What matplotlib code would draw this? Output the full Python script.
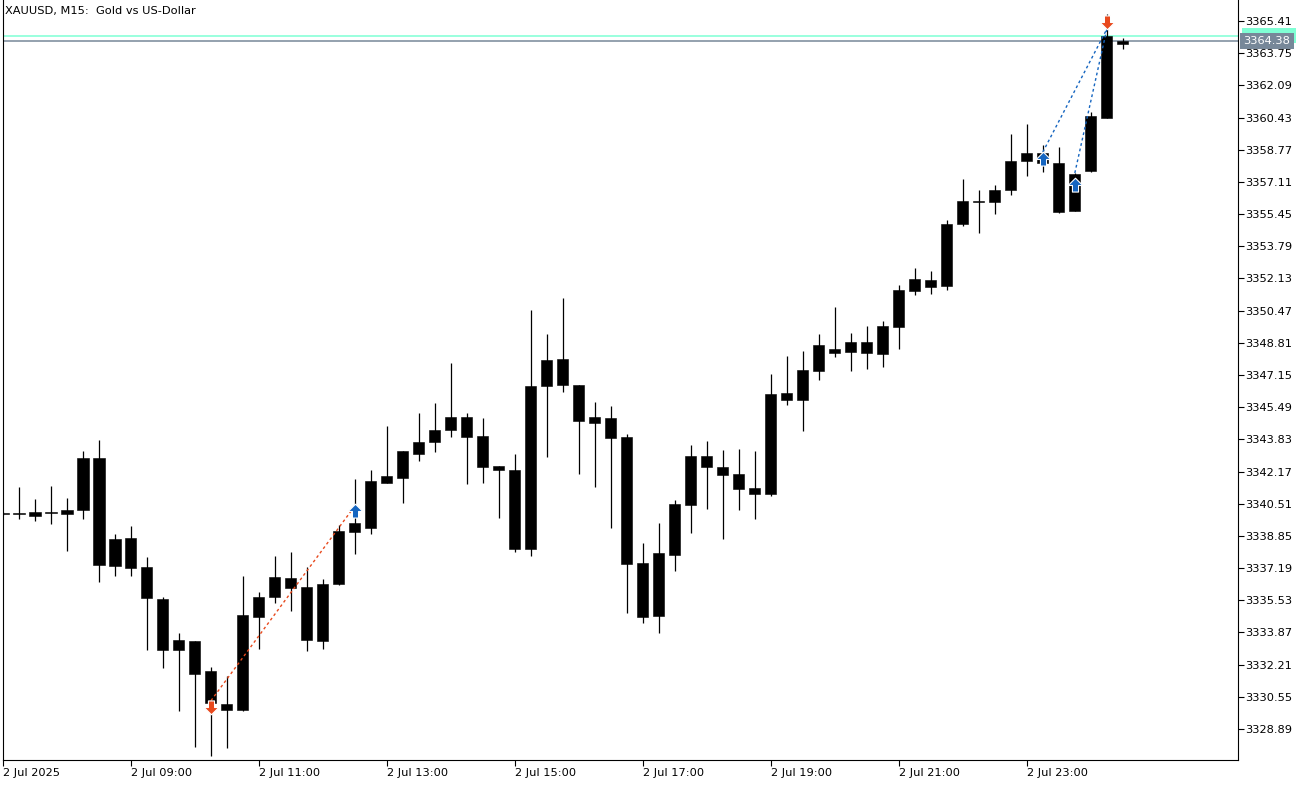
import numpy as np
import pandas as pd
import matplotlib
matplotlib.use("Agg")
import matplotlib.pyplot as plt
from matplotlib.path import Path
from matplotlib.patches import Rectangle
from matplotlib.transforms import blended_transform_factory

# XAUUSD M15 bars, 2 Jul 2025 07:00 .. 3 Jul 00:30
times = pd.date_range("2025-07-02 07:00", periods=71, freq="15min")

opens = [
    3340.03, 3339.98, 3340.08, 3340.02, 3340.00, 3340.19, 3342.87, 3337.31, 3338.74, 3337.25,
    3335.60, 3332.97, 3333.43, 3331.88, 3330.18, 3329.89, 3334.68, 3335.72, 3336.68, 3336.22,
    3333.45, 3336.38, 3339.04, 3339.27, 3341.60, 3341.85, 3343.09, 3343.71, 3344.33, 3344.98,
    3344.00, 3342.46, 3342.25, 3338.19, 3346.60, 3347.95, 3346.63, 3344.98, 3344.93, 3343.95,
    3337.45, 3334.74, 3337.88, 3340.46, 3342.97, 3342.41, 3342.04, 3341.32, 3341.03, 3346.22,
    3345.88, 3347.35, 3348.49, 3348.35, 3348.85, 3348.25, 3349.62, 3351.50, 3352.05, 3351.76,
    3354.92, 3356.13, 3356.09, 3356.69, 3358.19, 3358.60, 3358.09, 3355.61, 3357.67, 3360.43,
    3364.20]
highs = [
    3340.08, 3341.36, 3340.74, 3341.43, 3340.81, 3343.23, 3343.80, 3338.95, 3339.36, 3337.76,
    3335.70, 3333.86, 3333.43, 3332.09, 3331.63, 3336.78, 3335.96, 3337.81, 3338.02, 3337.25,
    3336.63, 3339.41, 3341.79, 3342.25, 3344.52, 3343.23, 3345.19, 3345.71, 3347.77, 3345.19,
    3344.93, 3342.46, 3343.08, 3350.50, 3349.27, 3351.12, 3346.63, 3345.76, 3345.55, 3344.11,
    3338.50, 3339.53, 3340.70, 3343.54, 3343.75, 3343.28, 3343.33, 3343.23, 3347.20, 3348.13,
    3348.39, 3349.27, 3350.66, 3349.32, 3349.68, 3349.94, 3351.79, 3352.67, 3352.51, 3355.15,
    3357.26, 3356.69, 3356.95, 3359.58, 3360.10, 3359.01, 3358.91, 3357.57, 3360.72, 3365.75,
    3364.53]
lows = [
    3339.93, 3339.71, 3339.64, 3339.47, 3338.09, 3339.74, 3336.49, 3336.80, 3336.80, 3332.97,
    3332.05, 3329.84, 3327.98, 3327.50, 3327.93, 3329.84, 3333.02, 3335.41, 3334.99, 3332.93,
    3333.03, 3336.33, 3337.93, 3338.93, 3341.60, 3340.56, 3342.73, 3343.19, 3343.97, 3341.54,
    3341.60, 3339.79, 3338.04, 3337.83, 3342.94, 3346.29, 3342.06, 3341.39, 3339.27, 3334.89,
    3334.37, 3333.86, 3337.06, 3339.02, 3340.25, 3338.71, 3340.20, 3339.74, 3340.93, 3345.62,
    3344.26, 3346.89, 3348.09, 3347.37, 3347.48, 3347.58, 3348.51, 3351.29, 3351.34, 3351.55,
    3354.85, 3354.49, 3355.47, 3356.44, 3357.42, 3357.62, 3355.51, 3355.61, 3357.62, 3360.41,
    3363.97]
closes = [
    3340.00, 3339.97, 3339.89, 3340.03, 3340.19, 3342.87, 3337.37, 3338.69, 3337.21, 3335.66,
    3332.97, 3333.48, 3331.74, 3330.22, 3329.86, 3334.77, 3335.70, 3336.73, 3336.18, 3333.50,
    3336.37, 3339.10, 3339.52, 3341.68, 3341.94, 3343.23, 3343.69, 3344.31, 3344.98, 3343.97,
    3342.42, 3342.27, 3338.19, 3346.58, 3347.92, 3346.62, 3344.79, 3344.69, 3343.92, 3337.42,
    3334.68, 3337.97, 3340.50, 3342.97, 3342.42, 3342.01, 3341.29, 3341.03, 3346.17, 3345.88,
    3347.41, 3348.70, 3348.30, 3348.85, 3348.30, 3349.68, 3351.53, 3352.10, 3351.71, 3354.94,
    3356.13, 3356.06, 3356.69, 3358.19, 3358.60, 3358.09, 3355.56, 3357.52, 3360.51, 3364.64,
    3364.38]

bid = 3364.38
ask = 3364.64

# deals: arrows and the dotted lines joining entry and exit
sell_bars = [13, 69]
sell_prices = [3330.04, 3365.36]
buy_bars = [22, 65, 67]
buy_prices = [3340.14, 3358.31, 3356.95]
trade_from_bar = [13, 65, 67]
trade_from_price = [3330.35, 3358.65, 3357.57]
trade_to_bar = [22, 69, 69]
trade_to_price = [3340.40, 3364.99, 3364.99]
trade_kind = ["loss", "win", "win"]

y_ticks = [round(3328.89 + 1.66 * k, 2) for k in range(23)]
x_tick_labels = ["2 Jul 2025", "2 Jul 09:00", "2 Jul 11:00", "2 Jul 13:00", "2 Jul 15:00",
                 "2 Jul 17:00", "2 Jul 19:00", "2 Jul 21:00", "2 Jul 23:00"]
x_tick_times = pd.date_range("2025-07-02 07:00", periods=9, freq="2h")

FS = 8.2
RED = '#e8491d'
BLUE = '#1565c0'
plt.rcParams['font.family'] = ['DejaVu Sans']

W, H = 1308, 785
fig = plt.figure(figsize=(W / 100, H / 100), dpi=100)
ax = fig.add_axes([3 / W, 25 / H, 1235 / W, 760 / H])

x = np.arange(len(times))
o = np.array(opens); c = np.array(closes)
hi = np.array(highs); lo = np.array(lows)

ax.vlines(x, lo, hi, color='black', lw=0.9, zorder=2)
body_bot = np.minimum(o, c)
body_h = np.maximum(np.abs(c - o), 0.05)
ax.bar(x, body_h, bottom=body_bot, width=0.69, color='black',
       edgecolor='black', lw=0.4, zorder=3)

# bid / ask lines
ax.axhline(ask, color='#7fffd4', lw=1.1, zorder=1)
ax.axhline(bid, color='#778899', lw=1.1, zorder=1)

# trade lines
for b0, p0, b1, p1, k in zip(trade_from_bar, trade_from_price, trade_to_bar, trade_to_price, trade_kind):
    col = RED if k == "loss" else BLUE
    ax.plot([b0, b1], [p0, p1], color=col, lw=1.0, ls=(0, (2, 2)), zorder=4)

# arrow markers
up_arrow = Path([(0, 1), (1, 0), (0.42, 0), (0.42, -0.9), (-0.42, -0.9), (-0.42, 0), (-1, 0), (0, 1)],
                [Path.MOVETO] + [Path.LINETO] * 6 + [Path.CLOSEPOLY])
down_arrow = Path([(vx, -vy) for vx, vy in up_arrow.vertices], up_arrow.codes)
ax.plot(buy_bars, buy_prices, ls='none', marker=up_arrow, ms=10.5, color=BLUE,
        mec='white', mew=0.8, zorder=5)
ax.plot(sell_bars, sell_prices, ls='none', marker=down_arrow, ms=10.5, color=RED,
        mec='white', mew=0.8, zorder=5)

# scales
px_per_usd = 19.386
ax.set_ylim(3365.41 - 739 / px_per_usd, 3365.41 + 21 / px_per_usd)
ax.set_xlim(0.02, 77.2)

ax.yaxis.tick_right()
ax.set_yticks(y_ticks)
ax.set_yticklabels([f"{v:.2f}" for v in y_ticks])
ax.tick_params(axis='y', direction='out', length=4, width=0.8, pad=1.5, labelsize=FS, colors='black')

x_tick_pos = [int(np.where(times == t)[0][0]) for t in x_tick_times]
ax.set_xticks(x_tick_pos)
ax.set_xticklabels(x_tick_labels, ha='left')
ax.tick_params(axis='x', direction='out', length=4, width=0.8, pad=2, labelsize=FS)

for s in ['left', 'right', 'bottom']:
    ax.spines[s].set_linewidth(0.8)
ax.spines['top'].set_visible(False)

# price labels on the right scale: ask box mostly hidden behind the bid box
tr = blended_transform_factory(ax.transAxes, ax.transData)
box_h = 15 / px_per_usd
ax.add_patch(Rectangle((1.003, ask - box_h / 2), 54 / 1235, box_h, transform=tr,
                       fc='#7fffd4', ec='none', clip_on=False, zorder=6))
ax.text(1.0045, bid, f"{bid:.2f}", transform=tr, ha='left', va='center', fontsize=FS,
        color='white', zorder=7, clip_on=False,
        bbox=dict(boxstyle='square,pad=0.3', fc='#778899', ec='none'))

fig.text(5 / W, 1 - 11 / H, "XAUUSD, M15:  Gold vs US-Dollar", ha='left', va='center', fontsize=FS)

fig.savefig("out.png", dpi=100)
